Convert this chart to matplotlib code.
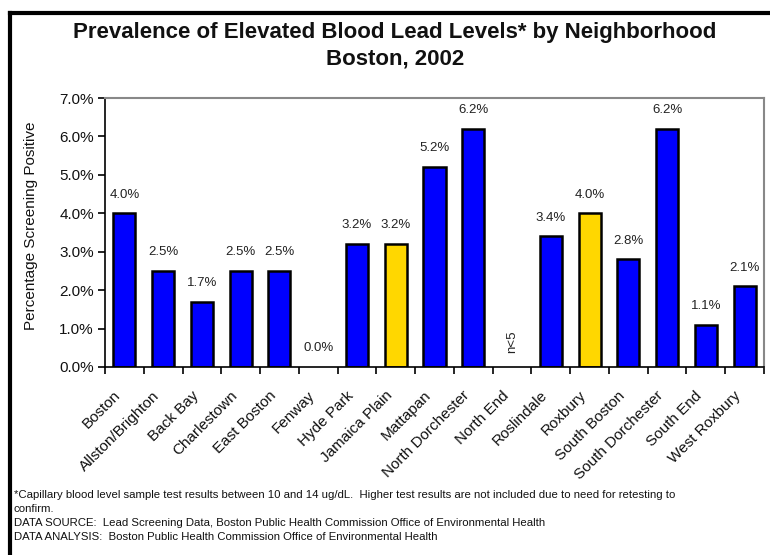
import matplotlib
matplotlib.use("Agg")
import matplotlib.pyplot as plt
from matplotlib.lines import Line2D
import matplotlib.transforms as mtransforms
import numpy as np

plt.rcParams['font.family'] = ['Liberation Sans', 'DejaVu Sans']

neighborhoods = ["Boston", "Allston/Brighton", "Back Bay", "Charlestown", "East Boston",
                 "Fenway", "Hyde Park", "Jamaica Plain", "Mattapan", "North Dorchester",
                 "North End", "Roslindale", "Roxbury", "South Boston", "South Dorchester",
                 "South End", "West Roxbury"]
values = [4.0, 2.5, 1.7, 2.5, 2.5, 0.0, 3.2, 3.2, 5.2, 6.2, None, 3.4, 4.0, 2.8, 6.2, 1.1, 2.1]
highlighted = ["Jamaica Plain", "Roxbury"]
yticks = [0, 1, 2, 3, 4, 5, 6, 7]
title = "Prevalence of Elevated Blood Lead Levels* by Neighborhood\nBoston, 2002"
ylabel = "Percentage Screening Positive"
footnotes = [
    "*Capillary blood level sample test results between 10 and 14 ug/dL.  Higher test results are not included due to need for retesting to",
    "confirm.",
    "DATA SOURCE:  Lead Screening Data, Boston Public Health Commission Office of Environmental Health",
    "DATA ANALYSIS:  Boston Public Health Commission Office of Environmental Health",
]

W, H = 770, 555
fig = plt.figure(figsize=(W / 100, H / 100), dpi=100)
ax = fig.add_axes([105 / W, 1 - 367 / H, (764 - 105) / W, (367 - 98) / H])

x = np.arange(len(neighborhoods))
colors = ["#FFD700" if n in highlighted else "#0000FF" for n in neighborhoods]
for xi, v, c in zip(x, values, colors):
    if v is not None and v > 0:
        ax.bar(xi, v, width=0.57, color=c, edgecolor="black", linewidth=1.8)

for xi, v in zip(x, values):
    if v is None:
        ax.text(xi, 0.65, "n<5", rotation=90, ha="center", va="center", fontsize=9.5, color="#222222")
    else:
        ax.text(xi, v + 0.33, f"{v:.1f}%", ha="center", va="bottom", fontsize=9.5, color="#222222")

ax.set_xlim(-0.5, len(neighborhoods) - 0.5)
ax.set_ylim(0, 7)
ax.set_yticks(yticks)
ax.set_yticklabels([f"{t:.1f}%" for t in yticks], fontsize=11, color="#111111")
ax.set_xticks(x)
ax.set_xticklabels(neighborhoods, rotation=45, ha="right", va="baseline",
                   rotation_mode="anchor", fontsize=11, color="#111111")
ax.tick_params(axis="x", which="major", length=0, pad=21)
shift = mtransforms.ScaledTranslation(-3 / 100, 0, fig.dpi_scale_trans)
for lab in ax.get_xticklabels():
    lab.set_transform(lab.get_transform() + shift)
ax.set_xticks(np.arange(-0.5, len(neighborhoods)), minor=True)
ax.tick_params(axis="x", which="minor", length=5, width=1.2, direction="out")
ax.tick_params(axis="y", length=5, width=1.2, direction="out", pad=3)

for s in ["top", "right"]:
    ax.spines[s].set_color("#888888")
    ax.spines[s].set_linewidth(1.5)
for s in ["left", "bottom"]:
    ax.spines[s].set_color("black")
    ax.spines[s].set_linewidth(1.2)

fig.text(31 / W, 1 - 226 / H, ylabel, rotation=90, ha="center", va="center", fontsize=11, color="#111111")

fig.text(395 / W, 1 - 45.5 / H, title, ha="center", va="center", fontsize=16,
         fontweight="bold", linespacing=1.32, color="#111111")

ys = [495, 509, 523, 537]
for t, yy in zip(footnotes, ys):
    fig.text(14 / W, 1 - yy / H, t, ha="left", va="center", fontsize=8.2, color="#111111")

# outer frame lines
fig.add_artist(Line2D([10 / W, 1], [1 - 13 / H, 1 - 13 / H], color="black", linewidth=3, transform=fig.transFigure))
fig.add_artist(Line2D([10 / W, 10 / W], [1 - 13 / H, 0], color="black", linewidth=3, transform=fig.transFigure))

fig.savefig("out.png", dpi=100)
